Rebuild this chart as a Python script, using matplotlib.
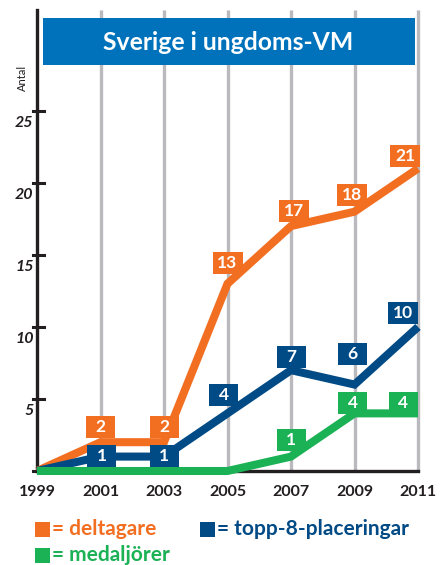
import matplotlib
matplotlib.use("Agg")
import matplotlib.pyplot as plt
from matplotlib.patches import Rectangle

years = [1999, 2001, 2003, 2005, 2007, 2009, 2011]
deltagare = [0, 2, 2, 13, 17, 18, 21]
topp8 = [0, 1, 1, 4, 7, 6, 10]
medaljorer = [0, 0, 0, 0, 1, 4, 4]
yticks = [5, 10, 15, 20, 25]
title = "Sverige i ungdoms-VM"
legend_labels = ["= deltagare", "= topp-8-placeringar", "= medaljörer"]

ORANGE = "#F26F22"
BLUE = "#004A85"
GREEN = "#1BB155"
TITLEBLUE = "#0072BC"
GRID = "#B9B9BE"
DARK = "#231F20"
FONT = "Lato"

W, H = 446, 565
fig = plt.figure(figsize=(W / 100, H / 100), dpi=100)
ax = fig.add_axes([37 / W, (H - 471) / H, (418 - 37) / W, (471 - 10) / H])
ax.set_xlim(1999, 2011)
ax.set_ylim(0, 32)
ax.axis("off")

# vertical grid lines
for yr in years[1:]:
    ax.plot([yr, yr], [0, 32], color=GRID, lw=2.4, zorder=1, solid_capstyle="butt", clip_on=False)

# axes lines
ax.plot([1999, 1999], [0, 32], color=DARK, lw=2.4, zorder=2, clip_on=False)
ax.plot([1999, 2011], [0, 0], color=DARK, lw=2.4, zorder=2, clip_on=False)

# y ticks
trans = ax.get_yaxis_transform()
for v in [0] + yticks:
    x0 = -4 / (418 - 37)
    x1 = (7 if v else 0) / (418 - 37)
    ax.plot([x0, x1], [v, v], transform=trans, color=DARK, lw=2.2, clip_on=False, zorder=3)
for v in yticks:
    ax.annotate(str(v), xy=(1999, v), xytext=(-2.5, -9), textcoords="offset points",
                ha="right", va="center", fontsize=11.5, fontweight="bold",
                fontfamily=FONT, style="italic", color=DARK)

# x tick labels
for yr in years:
    ax.annotate(str(yr), xy=(yr, 0), xytext=(0, -15), textcoords="offset points",
                ha="center", va="center", fontsize=11.5, fontweight="bold",
                fontfamily=FONT, color=DARK)

# series
series = [(deltagare, ORANGE, 4), (topp8, BLUE, 5), (medaljorer, GREEN, 6)]
for vals, col, z in series:
    ax.plot(years, vals, color=col, lw=5.8, zorder=z, clip_on=False,
            solid_joinstyle="miter", solid_capstyle="butt")

# value labels with pixel offsets (dx, dy) in px
off_d = [None, (0, 15), (0, 15), (0, 21), (3, 15), (-3, 17), (-13, 12)]
off_t = [None, (1, 1), (0, 1), (-4, 18), (0, 13), (-2, 31), (-15, 14)]
off_m = [None, None, None, None, (0, 17), (-2, 10), (-15, 10)]


def put_boxes(vals, offs, col):
    for yr, v, o in zip(years, vals, offs):
        if o is None:
            continue
        px, py = ax.transData.transform((yr, v))
        cx, cy = px + o[0], py + o[1]
        bw = 30 if v >= 10 else 29
        bh = 22
        fig.patches.append(Rectangle(((cx - bw / 2) / W, (cy - bh / 2) / H), bw / W, bh / H,
                                     transform=fig.transFigure, fc=col, ec="none", zorder=10))
        fig.text(cx / W, cy / H, str(v), ha="center", va="center", fontsize=12.5,
                 fontweight="bold", fontfamily=FONT, color="white", zorder=11)


put_boxes(deltagare, off_d, ORANGE)
put_boxes(topp8, off_t, BLUE)
put_boxes(medaljorer, off_m, GREEN)

# title box
fig.patches.append(Rectangle((43 / W, (H - 65) / H), (415 - 43) / W, 47 / H,
                             transform=fig.transFigure, fc=TITLEBLUE, ec="none", zorder=5))
fig.text(228 / W, (H - 42) / H, title, ha="center", va="center", fontsize=17.8,
         fontweight="bold", fontfamily=FONT, color="white", zorder=6)

# y axis label
fig.text(22 / W, (H - 78) / H, "Antal", rotation=90, ha="center", va="center",
         fontsize=8, fontfamily=FONT, color=DARK)

# legend
leg = [(35, 522, ORANGE, legend_labels[0]), (200, 522, BLUE, legend_labels[1]),
       (35, 548, GREEN, legend_labels[2])]
for x, y, col, lab in leg:
    fig.patches.append(Rectangle((x / W, (H - y - 15) / H), 15 / W, 15 / H,
                                 transform=fig.transFigure, fc=col, ec="none"))
    fig.text((x + 17) / W, (H - y - 7) / H, lab, ha="left", va="center", fontsize=15,
             fontweight="bold", fontfamily=FONT, color=col)

fig.savefig("out.png", dpi=100, facecolor="white")
